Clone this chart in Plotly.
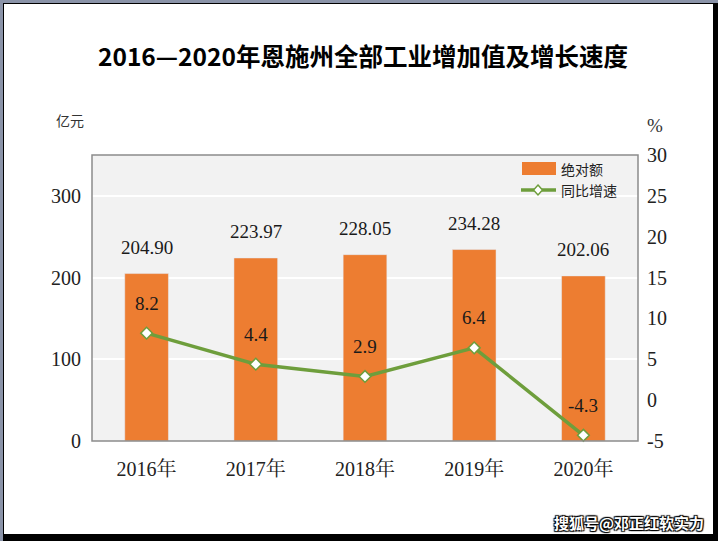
import plotly.graph_objects as go

years = ["2016年", "2017年", "2018年", "2019年", "2020年"]
amount = [204.90, 223.97, 228.05, 234.28, 202.06]
growth = [8.2, 4.4, 2.9, 6.4, -4.3]
amount_labels = ["204.90", "223.97", "228.05", "234.28", "202.06"]
growth_labels = ["8.2", "4.4", "2.9", "6.4", "-4.3"]
left_ticks = [0, 100, 200, 300]
right_ticks = [-5, 0, 5, 10, 15, 20, 25, 30]
right_tick_text = ["-5", "0", "5", "10", "15", "20", "25", "30"]

W, H = 718, 541
L, R, T, B = 92, 638, 155, 441

def px(x):
    return (x - L) / (R - L)

def py(y):
    return (B - y) / (B - T)

serif = "Liberation Serif, Noto Serif CJK SC, Noto Sans CJK SC, serif"
cjk = "Noto Sans CJK SC, sans-serif"
GREEN = "#6E9E3C"
ORANGE = "#ED7D31"

fig = go.Figure()
fig.add_trace(go.Bar(
    x=years, y=amount, name="绝对额", marker_color=ORANGE, width=0.4,
))
fig.add_trace(go.Scatter(
    x=years, y=growth, name="同比增速", yaxis="y2", mode="lines+markers",
    line=dict(color=GREEN, width=3.5),
    marker=dict(symbol="diamond", size=9, color="white", line=dict(color=GREEN, width=1.5)),
    cliponaxis=False,
))

annotations = []
for yr, v, t in zip(years, amount, amount_labels):
    annotations.append(dict(x=yr, y=v, xref="x", yref="y", text=t, showarrow=False,
                            yshift=26, yanchor="middle",
                            font=dict(family=serif, size=19, color="#1a1a1a")))
for yr, v, t in zip(years, growth, growth_labels):
    annotations.append(dict(x=yr, y=v, xref="x", yref="y2", text=t, showarrow=False,
                            yshift=30, yanchor="middle",
                            font=dict(family=serif, size=19, color="#1a1a1a")))

annotations += [
    dict(text="<b>2016—2020年恩施州全部工业增加值及增长速度</b>", xref="paper", yref="paper",
         x=px(363), y=py(55), showarrow=False, font=dict(family=cjk, size=24.5, color="#000000"),
         xanchor="center", yanchor="middle"),
    dict(text="亿元", xref="paper", yref="paper", x=px(70), y=py(120), showarrow=False,
         font=dict(family=cjk, size=14, color="#333333"), xanchor="center", yanchor="middle"),
    dict(text="%", xref="paper", yref="paper", x=px(655), y=py(125), showarrow=False,
         font=dict(family=serif, size=19, color="#333333"), xanchor="center", yanchor="middle"),
    dict(text="绝对额", xref="paper", yref="paper", x=px(559), y=py(169), showarrow=False,
         font=dict(family=cjk, size=14, color="#222222"), xanchor="left", yanchor="middle"),
    dict(text="同比增速", xref="paper", yref="paper", x=px(559), y=py(190), showarrow=False,
         font=dict(family=cjk, size=14, color="#222222"), xanchor="left", yanchor="middle"),
    dict(text="搜狐号@邓正红软实力", xref="paper", yref="paper", x=px(706), y=py(522),
         showarrow=False, xanchor="right", yanchor="middle",
         font=dict(family=cjk, size=15, color="white", weight="bold",
                   shadow="1px 1px 1px black, -1px -1px 1px black, 1px -1px 1px black, -1px 1px 1px black")),
]

dc, dy = 538, 190
shapes = [
    # legend marks
    dict(type="rect", xref="paper", yref="paper", x0=px(522), x1=px(556), y0=py(175), y1=py(162),
         fillcolor=ORANGE, line_width=0, layer="above"),
    dict(type="line", xref="paper", yref="paper", x0=px(521), x1=px(556), y0=py(dy), y1=py(dy),
         line=dict(color=GREEN, width=3.5), layer="above"),
    dict(type="path", xref="paper", yref="paper",
         path=f"M {px(dc)} {py(dy-5)} L {px(dc+4.5)} {py(dy)} L {px(dc)} {py(dy+5)} L {px(dc-4.5)} {py(dy)} Z",
         fillcolor="white", line=dict(color=GREEN, width=1.5), layer="above"),
    # plot area border
    dict(type="rect", xref="paper", yref="paper", x0=0, x1=1, y0=0, y1=1,
         line=dict(color="#8C8C8C", width=1.5), layer="above"),
    # outer frame
    dict(type="rect", xref="paper", yref="paper", x0=px(0), x1=px(718), y0=py(3), y1=py(0),
         fillcolor="#8A93A8", line_width=0, layer="above"),
    dict(type="rect", xref="paper", yref="paper", x0=px(0), x1=px(3), y0=py(541), y1=py(0),
         fillcolor="#8A93A8", line_width=0, layer="above"),
    dict(type="rect", xref="paper", yref="paper", x0=px(3), x1=px(713), y0=py(4), y1=py(3),
         fillcolor="#000000", line_width=0, layer="above"),
    dict(type="rect", xref="paper", yref="paper", x0=px(3), x1=px(4), y0=py(534), y1=py(3),
         fillcolor="#000000", line_width=0, layer="above"),
    dict(type="rect", xref="paper", yref="paper", x0=px(713), x1=px(718), y0=py(541), y1=py(3),
         fillcolor="#000000", line_width=0, layer="above"),
    dict(type="rect", xref="paper", yref="paper", x0=px(3), x1=px(718), y0=py(541), y1=py(534),
         fillcolor="#000000", line_width=0, layer="above"),
]

fig.update_layout(
    width=W, height=H,
    margin=dict(l=L, r=W - R, t=T, b=H - B, pad=0),
    paper_bgcolor="white", plot_bgcolor="#F2F2F2",
    showlegend=False,
    xaxis=dict(tickfont=dict(family=serif, size=20, color="#222222"), showline=False,
               ticks="", showgrid=False, ticklabelstandoff=14),
    yaxis=dict(range=[0, 350], tickvals=left_ticks, showgrid=True, gridcolor="white",
               gridwidth=1.5, zeroline=False, tickfont=dict(family=serif, size=20, color="#222222"),
               ticks="", ticklabelstandoff=10),
    yaxis2=dict(range=[-5, 30], tickvals=right_ticks, ticktext=right_tick_text,
                overlaying="y", side="right", showgrid=False, zeroline=False,
                tickfont=dict(family=serif, size=20, color="#222222"),
                ticks="", ticklabelstandoff=8),
    shapes=shapes, annotations=annotations,
)

fig.write_html("out.html", post_script="document.body.style.margin='0';",
               config={"displayModeBar": False})
